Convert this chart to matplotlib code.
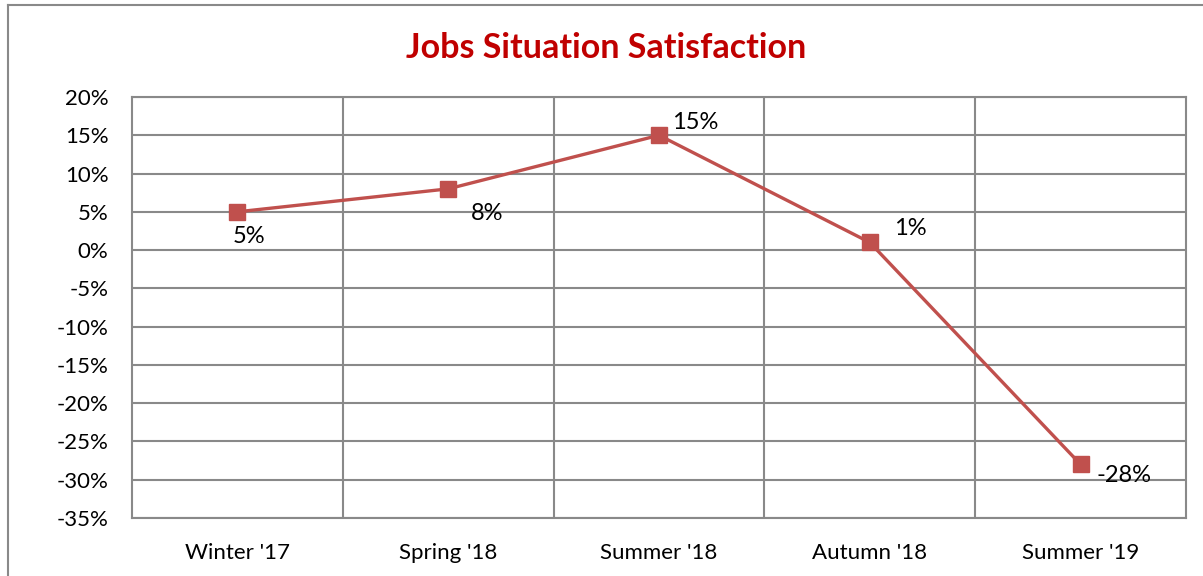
import numpy as np
import matplotlib
matplotlib.use('Agg')
import matplotlib.pyplot as plt
from matplotlib.lines import Line2D

# data
seasons = ["Winter '17", "Spring '18", "Summer '18", "Autumn '18", "Summer '19"]
satisfaction = [5, 8, 15, 1, -28]
label_offsets = [(8, -18), (28, -18), (26, 9), (29, 10), (31, -8)]  # points, per label

plt.rcParams['font.family'] = ['Lato', 'DejaVu Sans']

W, H = 1203, 576
fig = plt.figure(figsize=(W / 100, H / 100), dpi=100)
ax = fig.add_axes([132 / W, (H - 518) / H, (1186 - 132) / W, (518 - 97) / H])

grid_col = '#898989'
x = np.arange(len(seasons))
ax.plot(x, satisfaction, color='#C0504D', lw=2.4, marker='s', ms=12,
        mfc='#C0504D', mec='#C0504D', zorder=3)

for xi, v, off in zip(x, satisfaction, label_offsets):
    ax.annotate('%d%%' % v, (xi, v), xytext=off, textcoords='offset points',
                ha='center', va='center', fontsize=17, color='black')

ax.set_xlim(-0.5, len(seasons) - 0.5)
ax.set_ylim(-35, 20)
ax.set_yticks(np.arange(-35, 21, 5))
ax.set_yticklabels(['%d%%' % t for t in np.arange(-35, 21, 5)])
ax.set_xticks(x)
ax.set_xticklabels(seasons)
ax.tick_params(axis='both', length=0, labelsize=16, colors='black')
ax.tick_params(axis='y', pad=17)
ax.tick_params(axis='x', pad=18)

# horizontal grid at y ticks, vertical grid at category boundaries
ax.grid(axis='y', color=grid_col, lw=1.5)
for b in np.arange(0.5, len(seasons) - 1, 1.0):
    ax.axvline(b, color=grid_col, lw=1.5, zorder=1)
ax.set_axisbelow(True)
for s in ax.spines.values():
    s.set_color(grid_col)
    s.set_linewidth(1.5)

fig.text(606 / W, 1 - 48 / H, 'Jobs Situation Satisfaction', ha='center', va='center',
         fontsize=24.5, fontweight='bold', color='#C00000')

# outer chart border (cropped on right and bottom)
fig.add_artist(Line2D([7.5 / W, 7.5 / W], [0, 1 - 4.5 / H], transform=fig.transFigure,
                      color=grid_col, lw=1.5))
fig.add_artist(Line2D([7.5 / W, 1], [1 - 4.5 / H, 1 - 4.5 / H], transform=fig.transFigure,
                      color=grid_col, lw=1.5))

fig.savefig('out.png', dpi=100)
